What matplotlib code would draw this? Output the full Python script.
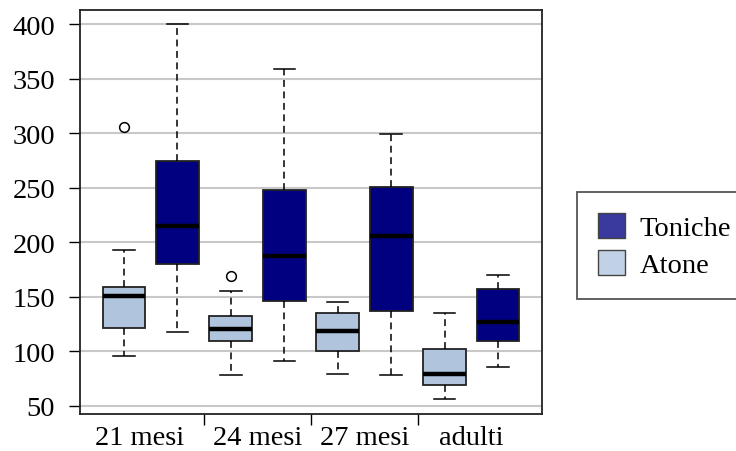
import matplotlib
matplotlib.use("Agg")
import matplotlib.pyplot as plt
from matplotlib.patches import Patch

plt.rcParams['font.family'] = ['Liberation Serif', 'DejaVu Serif']

groups = ["21 mesi", "24 mesi", "27 mesi", "adulti"]
series = ["Toniche", "Atone"]

# five-number summaries: (low whisker, Q1, median, Q3, high whisker)
atone_low = [95.7, 78.5, 79.4, 56.7]
atone_q1 = [121.4, 109.4, 100.5, 69.0]
atone_med = [150.8, 120.5, 118.6, 79.4]
atone_q3 = [159.0, 132.7, 134.8, 102.1]
atone_high = [192.7, 155.7, 145.5, 134.8]
atone_out = [[306.0], [168.8], [], []]

toniche_low = [117.7, 91.6, 78.5, 85.8]
toniche_q1 = [179.8, 146.5, 137.0, 109.4]
toniche_med = [214.7, 187.2, 206.2, 126.9]
toniche_q3 = [274.8, 248.1, 250.3, 156.9]
toniche_high = [400.0, 358.7, 299.0, 169.7]
toniche_out = [[], [], [], []]

yticks = [50, 100, 150, 200, 250, 300, 350, 400]

col_atone = "#b0c4de"
col_toniche = "#000080"
leg_atone = "#c2d2e6"
leg_toniche = "#3a3a9e"

fig = plt.figure(figsize=(7.36, 4.52), dpi=100)
ax = fig.add_axes([80/736, 37/452, 462/736, 404/452])

stats, colors, positions = [], [], []
for i in range(len(groups)):
    stats.append(dict(whislo=atone_low[i], q1=atone_q1[i], med=atone_med[i],
                      q3=atone_q3[i], whishi=atone_high[i], fliers=atone_out[i]))
    colors.append(col_atone)
    positions.append(2*i + 1)
    stats.append(dict(whislo=toniche_low[i], q1=toniche_q1[i], med=toniche_med[i],
                      q3=toniche_q3[i], whishi=toniche_high[i], fliers=toniche_out[i]))
    colors.append(col_toniche)
    positions.append(2*i + 2)

for y in yticks:
    ax.axhline(y, color="#c8c8c8", lw=1.5, zorder=0)

bp = ax.bxp(stats, positions=positions, widths=0.8, patch_artist=True,
            showfliers=True,
            boxprops=dict(edgecolor="#222222", linewidth=1.3),
            medianprops=dict(color="black", linewidth=3.2, solid_capstyle="butt"),
            whiskerprops=dict(color="black", linewidth=1.1, linestyle=(0, (4.5, 3))),
            capprops=dict(color="black", linewidth=1.1),
            capwidths=0.4,
            flierprops=dict(marker="o", markerfacecolor="none",
                            markeredgecolor="black", markersize=7, markeredgewidth=1.1))
for patch, c in zip(bp["boxes"], colors):
    patch.set_facecolor(c)
    patch.set_zorder(2)
for m in bp["medians"]:
    m.set_zorder(3)

ax.set_xlim(0.176, 8.824)
ax.set_ylim(42.6, 412.9)
ax.set_yticks(yticks)
ax.set_yticklabels([str(v) for v in yticks])
ax.tick_params(axis="y", length=8, width=1, pad=10, labelsize=20.5, direction="out")

ax.set_xticks([2.5, 4.5, 6.5])
ax.set_xticklabels([])
ax.tick_params(axis="x", which="major", length=8, width=1, direction="out")
ax.set_xticks([1.29, 3.5, 5.5, 7.5], minor=True)
ax.set_xticklabels(groups, minor=True)
ax.tick_params(axis="x", which="minor", length=0, pad=8, labelsize=20.5)

for s in ax.spines.values():
    s.set_color("#222222")
    s.set_linewidth(1.3)

handles = [Patch(facecolor=leg_toniche, edgecolor="#444444", label=series[0]),
           Patch(facecolor=leg_atone, edgecolor="#444444", label=series[1])]
leg = fig.legend(handles=handles, loc="upper left",
                 bbox_to_anchor=(577/736, 1 - 193/452), fontsize=20.5,
                 fancybox=False, edgecolor="#555555", framealpha=1,
                 handlelength=0.95, handleheight=0.95, handletextpad=0.5,
                 labelspacing=0.3, borderpad=0.75, borderaxespad=0)
leg.get_frame().set_linewidth(1.3)

fig.savefig("out.png", dpi=100)
